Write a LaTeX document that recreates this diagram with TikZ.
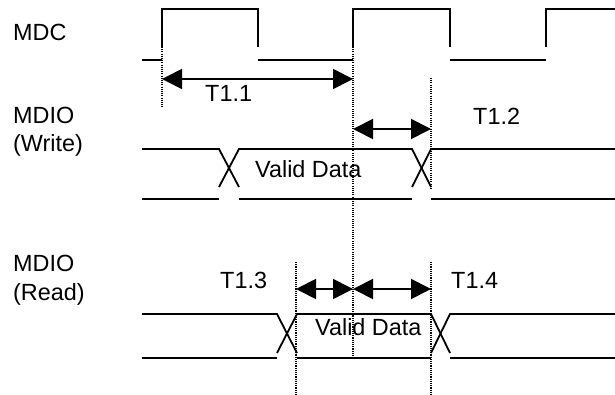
\documentclass[tikz,border=0pt]{standalone}
\usepackage{fontspec}
\setmainfont{Liberation Sans}
\usetikzlibrary{arrows.meta}
\begin{document}
\begin{tikzpicture}[x=1pt,y=-1pt,
  signal/.style={line width=1.8pt, line join=miter},
  marker/.style={line width=1.1pt, dash pattern=on 1.1pt off 1.1pt},
  span/.style={line width=1.8pt,
    {Triangle[length=20pt,width=20pt]}-{Triangle[length=20pt,width=20pt]}},
  lbl/.style={anchor=base west, inner sep=0pt,
    font=\fontsize{23.4}{28}\selectfont}]
\fill[white] (0,0) rectangle (615,395);
\useasboundingbox (0,0) rectangle (615,395);

% signal names
\node[lbl] (mdc)   at (13,41)  {MDC};
\node[lbl] (mdiow) at (13,124) {MDIO};
\node[lbl] (wr)    at (13,152) {(Write)};
\node[lbl] (mdior) at (13,271) {MDIO};
\node[lbl] (rd)    at (13,300) {(Read)};

% MDC clock
\draw[signal] (142,60) -- (162,60);
\draw[signal] (162,47) -- (162,9) -- (258,9) -- (258,47);
\draw[signal] (258,60) -- (353,60);
\draw[signal] (353,47) -- (353,9) -- (450,9) -- (450,47);
\draw[signal] (450,60) -- (546,60);
\draw[signal] (546,47) -- (546,9) -- (615,9);

% MDIO write data
\draw[signal] (142,149) -- (219,149) -- (239,187);
\draw[signal] (142,199) -- (219,199);
\draw[signal] (219,187) -- (239,149) -- (412,149) -- (431,187);
\draw[signal] (239,199) -- (412,199);
\draw[signal] (412,187) -- (431,149) -- (615,149);
\draw[signal] (431,199) -- (615,199);
\node[lbl] (wdata) at (255,178) {Valid Data};

% MDIO read data
\draw[signal] (142,314) -- (277,314) -- (297,353);
\draw[signal] (142,358) -- (277,358);
\draw[signal] (277,353) -- (297,314) -- (431,314) -- (450,353);
\draw[signal] (297,358) -- (431,358);
\draw[signal] (431,353) -- (450,314) -- (615,314);
\draw[signal] (450,358) -- (615,358);
\node[lbl] (rdata) at (315,335) {Valid Data};

% timing reference marks
\coordinate (m1top) at (162,47);  \coordinate (m1bot) at (162,108);
\coordinate (m2top) at (353,47);  \coordinate (m2bot) at (353,358);
\coordinate (m3top) at (431,78);  \coordinate (m3bot) at (431,190);
\coordinate (m4top) at (296,262); \coordinate (m4bot) at (296,395);
\coordinate (m5top) at (431,262); \coordinate (m5bot) at (431,395);
\draw[marker] (m1top) -- (m1bot);
\draw[marker] (m2top) -- (m2bot);
\draw[marker] (m3top) -- (m3bot);
\draw[marker] (m4top) -- (m4bot);
\draw[marker] (m5top) -- (m5bot);

% timing intervals
\coordinate (a1l) at (162,79);  \coordinate (a1r) at (353,79);
\coordinate (a2l) at (353,129); \coordinate (a2r) at (431,129);
\coordinate (a3l) at (296,289); \coordinate (a3r) at (353,289);
\coordinate (a4l) at (353,289); \coordinate (a4r) at (431,289);
\draw[span] (a1l) -- (a1r);
\draw[span] (a2l) -- (a2r);
\draw[span] (a3l) -- (a3r);
\draw[span] (a4l) -- (a4r);

\node[lbl] (t11) at (205,102) {T1.1};
\node[lbl] (t12) at (473,125) {T1.2};
\node[lbl] (t13) at (220,288) {T1.3};
\node[lbl] (t14) at (451,288) {T1.4};
\end{tikzpicture}
\end{document}
